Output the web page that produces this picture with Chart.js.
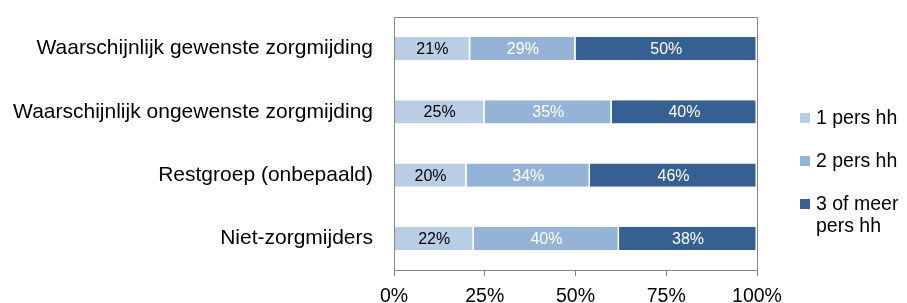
<!DOCTYPE html>
<html>
<head>
<meta charset="utf-8">
<script src="https://cdn.jsdelivr.net/npm/chart.js@4/dist/chart.umd.min.js"></script>
<style>
  body { margin: 0; background: #fff; }
  #wrap { position: relative; width: 907px; height: 303px; }
  #legend {
    position: absolute; left: 800px; top: 106px; width: 100px;
    font-family: "Liberation Sans", Arial, sans-serif; font-size: 19.5px; color: #000;
  }
  .item { position: relative; padding-left: 16px; line-height: 22px; margin-bottom: 21px; }
  .sw { position: absolute; left: 0; top: 7px; width: 10px; height: 10px; }
</style>
</head>
<body>
<div id="wrap">
  <canvas id="c" width="907" height="303"></canvas>
  <div id="legend"></div>
</div>
<script>
// categories, top to bottom
const categories = [
  'Waarschijnlijk gewenste zorgmijding',
  'Waarschijnlijk ongewenste zorgmijding',
  'Restgroep (onbepaald)',
  'Niet-zorgmijders'
];
const seriesNames = ['1 pers hh', '2 pers hh', '3 of meer pers hh'];
const onePers = [21, 25, 20, 22];
const twoPers = [29, 35, 34, 40];
const threePlus = [50, 40, 46, 38];
const xTicks = [0, 25, 50, 75, 100];

const colors = ['#B9CDE5', '#95B3D7', '#376092'];
const labelColors = ['#000000', '#ffffff', '#ffffff'];
const font = '"Liberation Sans", Arial, sans-serif';

// legend (html so the last entry can wrap like the original)
const legendEl = document.getElementById('legend');
seriesNames.forEach((name, i) => {
  const d = document.createElement('div');
  d.className = 'item';
  d.innerHTML = '<span class="sw" style="background:' + colors[i] + '"></span>' + name;
  legendEl.appendChild(d);
});

// frame around the plot area
const frame = {
  id: 'frame',
  afterDraw(chart) {
    const a = chart.chartArea, ctx = chart.ctx;
    ctx.save();
    ctx.strokeStyle = '#868686';
    ctx.lineWidth = 1;
    ctx.strokeRect(Math.round(a.left) + 0.5, Math.round(a.top) + 0.5,
      Math.round(a.right - a.left), Math.round(a.bottom - a.top));
    ctx.restore();
  }
};

// percentage labels in the middle of each segment
const valueLabels = {
  id: 'valueLabels',
  afterDatasetsDraw(chart) {
    const ctx = chart.ctx;
    ctx.save();
    ctx.font = '16px ' + font;
    ctx.textAlign = 'center';
    ctx.textBaseline = 'middle';
    chart.data.datasets.forEach((ds, i) => {
      const meta = chart.getDatasetMeta(i);
      ctx.fillStyle = labelColors[i];
      meta.data.forEach((bar, j) => {
        const p = bar.getProps(['x', 'y', 'base'], true);
        ctx.fillText(ds.data[j] + '%', (p.x + p.base) / 2, p.y + 1);
      });
    });
    ctx.restore();
  }
};

new Chart(document.getElementById('c'), {
  type: 'bar',
  data: {
    labels: categories,
    datasets: [onePers, twoPers, threePlus].map((vals, i) => ({
      label: seriesNames[i],
      data: vals,
      backgroundColor: colors[i],
      borderColor: '#ffffff',
      borderWidth: { right: 1.5, left: 0, top: 0, bottom: 0 },
      borderSkipped: false,
      categoryPercentage: 1,
      barPercentage: 0.37
    }))
  },
  options: {
    indexAxis: 'y',
    responsive: false,
    animation: false,
    layout: { padding: { top: 17, right: 150, left: 0, bottom: 0 } },
    plugins: {
      legend: { display: false },
      tooltip: { enabled: false }
    },
    scales: {
      x: {
        stacked: true,
        min: 0,
        max: 100,
        afterBuildTicks: s => { s.ticks = xTicks.map(v => ({ value: v })); },
        afterFit: s => { s.height = 33; },
        grid: { display: true, drawOnChartArea: false, drawTicks: true, tickLength: 6, color: '#868686' },
        border: { display: false },
        ticks: {
          padding: 9,
          color: '#000',
          font: { family: font, size: 19.5 },
          maxRotation: 0,
          callback: v => v + '%'
        }
      },
      y: {
        stacked: true,
        afterFit: s => { s.width = 394; s.paddingTop = 0; s.paddingBottom = 0; },
        grid: { display: false, drawTicks: false },
        border: { display: false },
        ticks: {
          padding: 21,
          color: '#000',
          font: { family: font, size: 21 }
        }
      }
    }
  },
  plugins: [frame, valueLabels]
});
</script>
</body>
</html>
